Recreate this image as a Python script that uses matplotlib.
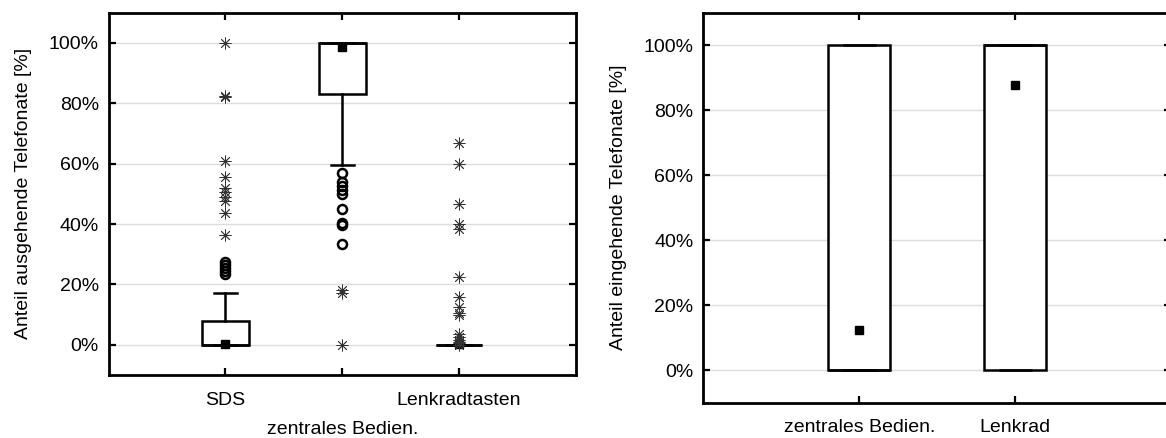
import numpy as np
import matplotlib
matplotlib.use("Agg")
import matplotlib.pyplot as plt
from matplotlib.ticker import PercentFormatter

W = 1166
H = 438

plt.rcParams['font.family'] = ['Liberation Sans', 'DejaVu Sans']
plt.rcParams['font.size'] = 14

# linker Teil: ausgehende Telefonate
out_labels = ["SDS", "zentrales Bedien.", "Lenkradtasten"]
out_q1 = [0, 83, 0]
out_med = [0, 100, 0]
out_q3 = [8, 100, 0]
out_whislo = [0, 59.5, 0]
out_whishi = [17, 100, 0]
out_mean = [0.3, 98.6, 0.3]
# Ausreisser (Kreis) und Extremwerte (Stern)
out_circles = [
    [23.5, 24.5, 25.5, 26.5, 27.5],
    [57.0, 54.0, 52.5, 51.2, 49.8, 45.0, 40.5, 39.8, 33.5],
    [],
]
out_stars = [
    [100, 82, 82.3, 61, 55.5, 52, 50.5, 49, 47.5, 43.5, 36.5],
    [17, 18, 0],
    [67, 60, 46.5, 40, 38.5, 22.5, 16, 12.5, 10.5, 10, 3.5, 2.5, 1.5, 1, 0.5, 0],
]

# rechter Teil: eingehende Telefonate
in_labels = ["zentrales Bedien.", "Lenkrad"]
in_q1 = [0, 0]
in_med = [0, 100]
in_q3 = [100, 100]
in_whislo = [0, 0]
in_whishi = [100, 100]
in_mean = [12.3, 87.7]


def make_stats(labels, q1, med, q3, lo, hi, mean):
    stats = []
    for i in range(len(labels)):
        stats.append(dict(label=labels[i], q1=q1[i], med=med[i], q3=q3[i],
                          whislo=lo[i], whishi=hi[i], mean=mean[i], fliers=[]))
    return stats


def style_axes(ax, ylabel):
    ax.set_ylim(-10, 110)
    ax.set_yticks(np.arange(0, 101, 20))
    ax.yaxis.set_major_formatter(PercentFormatter(xmax=100, decimals=0))
    ax.grid(axis='y', color='#dcdcdc', linewidth=1.0, zorder=0)
    ax.set_axisbelow(True)
    ax.tick_params(direction='in', top=True, right=True, length=5, width=1.6,
                   pad=12, colors='black')
    ax.tick_params(axis='y', pad=7)
    for s in ax.spines.values():
        s.set_linewidth(2.0)
    ax.set_ylabel(ylabel, labelpad=12)


def draw_boxes(ax, stats):
    lw = 1.8
    ax.bxp(stats, positions=np.arange(1, len(stats) + 1), widths=0.4,
           showmeans=True, showfliers=False, patch_artist=True,
           boxprops=dict(facecolor='white', edgecolor='black', linewidth=lw),
           medianprops=dict(color='black', linewidth=lw),
           whiskerprops=dict(color='black', linewidth=lw),
           capprops=dict(color='black', linewidth=lw),
           meanprops=dict(marker='s', markerfacecolor='black',
                          markeredgecolor='black', markersize=6),
           capwidths=0.2, manage_ticks=False, zorder=2)


fig = plt.figure(figsize=(W / 100, H / 100), dpi=100)
ax1 = fig.add_axes([108.7 / W, 1 - 375 / H, 467 / W, (375 - 12.7) / H])
ax2 = fig.add_axes([703.3 / W, 1 - 402.7 / H, 468 / W, (402.7 - 12.7) / H])

# links
draw_boxes(ax1, make_stats(out_labels, out_q1, out_med, out_q3,
                           out_whislo, out_whishi, out_mean))
for i in range(len(out_labels)):
    ax1.plot([i + 1] * len(out_circles[i]), out_circles[i], linestyle='none',
             marker='o', markerfacecolor='none', markeredgecolor='black',
             markersize=6.5, markeredgewidth=1.8, zorder=3)
    ax1.plot([i + 1] * len(out_stars[i]), out_stars[i], linestyle='none',
             marker=(8, 2, 0), color='#333333', markersize=8.5,
             markeredgewidth=0.6, zorder=3)
ax1.set_xlim(0, 4)
ax1.set_xticks([1, 2, 3])
ax1.set_xticklabels(out_labels)
style_axes(ax1, "Anteil ausgehende Telefonate [%]")
ax1.xaxis.get_major_ticks()[1].set_pad(33)

# rechts
draw_boxes(ax2, make_stats(in_labels, in_q1, in_med, in_q3,
                           in_whislo, in_whishi, in_mean))
ax2.set_xlim(0, 3)
ax2.set_xticks([1, 2])
ax2.set_xticklabels(in_labels)
style_axes(ax2, "Anteil eingehende Telefonate [%]")

fig.savefig("out.png", dpi=100)
